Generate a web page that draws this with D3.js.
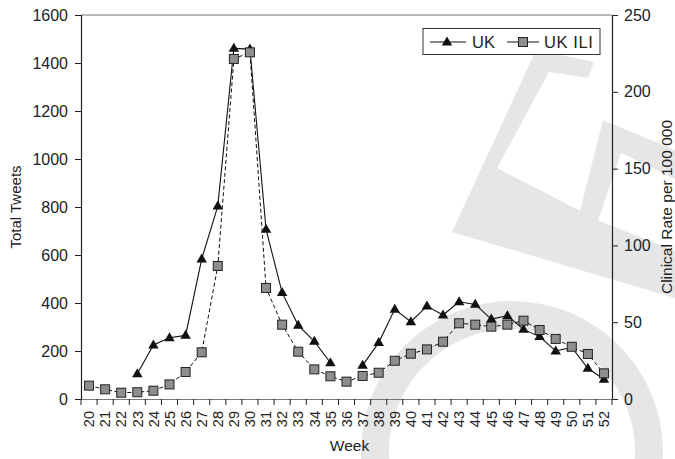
<!DOCTYPE html>
<html>
<head>
<meta charset="utf-8">
<script src="https://cdn.jsdelivr.net/npm/d3@7"></script>
<style>
  html, body { margin: 0; padding: 0; background: #fff; }
  svg { display: block; font-family: "Liberation Sans", Arial, Helvetica, sans-serif; }
</style>
</head>
<body>
<svg id="chart" width="675" height="459"></svg>
<script>
// Weekly tweet counts (left axis) and clinical ILI rate (right axis)
const weeks = [20,21,22,23,24,25,26,27,28,29,30,31,32,33,34,35,36,37,38,39,40,41,42,43,44,45,46,47,48,49,50,51,52];
const ukTweets = [null,null,null,105,225,255,265,583,804,1461,1458,707,443,307,240,151,null,140,235,374,322,387,350,405,394,333,347,290,260,200,215,128,82];
const ukIli = [8.7,6.3,4.1,4.4,5.4,9.5,17.6,30.4,86.6,221.4,225.7,72.3,48.4,30.8,19.3,14.8,11.3,15.0,17.1,24.9,29.5,32.3,37.3,49.3,48.4,47.1,48.4,51.0,44.9,39.1,34.0,29.3,16.7];
const leftTicks = [0,200,400,600,800,1000,1200,1400,1600];
const rightTicks = [0,50,100,150,200,250];
const seriesNames = ["UK", "UK ILI"];

const svg = d3.select("#chart");
const m = { left: 81, right: 612, top: 15, bottom: 399 };
const ink = "#222";
const font = "Liberation Sans, Arial, sans-serif";

// Light background emblem
const deco = svg.append("g").attr("fill", "#e6e6e6");
const ring = d3.arc().innerRadius(123).outerRadius(151).startAngle(0).endAngle(2 * Math.PI);
deco.append("path").attr("transform", "translate(512,452)").attr("d", ring());
const polyLine = d3.line();
deco.append("path").attr("d", polyLine([[536,50],[594,62],[588,78],[549,72],[497,168],[600,221],[675,251],[675,298],[452,232]]) + "Z");
deco.append("path").attr("d", polyLine([[603,120],[675,150],[675,179],[621,153],[598,221],[577,223]]) + "Z");

// Scales
const x = d3.scaleBand().domain(weeks).range([m.left, m.right]).padding(0);
const yL = d3.scaleLinear().domain([0, 1600]).range([m.bottom, m.top]);
const yR = d3.scaleLinear().domain([0, 250]).range([m.bottom, m.top]);
const cx = w => x(w) + x.bandwidth() / 2;

// Top border
svg.append("line").attr("x1", m.left).attr("x2", m.right).attr("y1", m.top).attr("y2", m.top)
  .attr("stroke", "#777").attr("stroke-width", 1.2);

// Left axis
const gL = svg.append("g").attr("transform", `translate(${m.left},0)`)
  .call(d3.axisLeft(yL).tickValues(leftTicks).tickSize(6).tickPadding(7).tickFormat(d3.format("d")));
gL.select(".domain").attr("stroke", ink).attr("stroke-width", 1.2);
gL.selectAll(".tick line").attr("stroke", ink);
gL.selectAll("text").attr("fill", ink).style("font-size", "16px").style("font-family", font);

// Right axis
const gR = svg.append("g").attr("transform", `translate(${m.right},0)`)
  .call(d3.axisRight(yR).tickValues(rightTicks).tickSize(6).tickPadding(6).tickFormat(d3.format("d")));
gR.select(".domain").attr("stroke", ink).attr("stroke-width", 1.2);
gR.selectAll(".tick line").attr("stroke", ink);
gR.selectAll("text").attr("fill", ink).style("font-size", "16px").style("font-family", font);

// Bottom axis: ticks on band edges, rotated week labels at band centres
const gB = svg.append("g").attr("transform", `translate(0,${m.bottom})`)
  .call(d3.axisBottom(x).tickSize(0).tickPadding(0));
gB.select(".domain").attr("stroke", "#777").attr("stroke-width", 1.2);
gB.selectAll(".tick text")
  .attr("fill", ink)
  .style("font-size", "14.5px").style("font-family", font)
  .attr("text-anchor", "end")
  .attr("transform", "rotate(-90)")
  .attr("x", -12).attr("y", 0).attr("dy", "0.36em");
const edges = weeks.map(w => x(w)).concat([x.range()[1]]);
gB.selectAll(".edge").data(edges).join("line").attr("class", "edge")
  .attr("x1", d => d).attr("x2", d => d).attr("y1", 0).attr("y2", 6)
  .attr("stroke", ink).attr("stroke-width", 1);

// Axis titles
svg.append("text").attr("transform", `translate(21,${(m.top + m.bottom) / 2}) rotate(-90)`)
  .attr("text-anchor", "middle").attr("fill", ink).style("font-size", "15px").text("Total Tweets");
svg.append("text").attr("transform", `translate(672,${(m.top + m.bottom) / 2}) rotate(-90)`)
  .attr("text-anchor", "middle").attr("fill", ink).style("font-size", "15.5px").text("Clinical Rate per 100 000");
svg.append("text").attr("x", (m.left + m.right) / 2 + 3).attr("y", 451)
  .attr("text-anchor", "middle").attr("fill", ink).style("font-size", "15.5px").text("Week");

// Series lines
const iliLine = d3.line().x((d, i) => cx(weeks[i])).y(d => yR(d)).defined(d => d != null);
const ukLine = d3.line().x((d, i) => cx(weeks[i])).y(d => yL(d)).defined(d => d != null);
svg.append("path").attr("d", iliLine(ukIli)).attr("fill", "none").attr("stroke", "#111")
  .attr("stroke-width", 1).attr("stroke-dasharray", "4,2.5");
svg.append("path").attr("d", ukLine(ukTweets)).attr("fill", "none").attr("stroke", "#111")
  .attr("stroke-width", 1.1);

// Markers
const triPath = (w, h) => `M0,${-h * 0.62}L${w / 2},${h * 0.38}L${-w / 2},${h * 0.38}Z`;
const ukPts = weeks.map((w, i) => ({ w, v: ukTweets[i] })).filter(d => d.v != null);
svg.append("g").selectAll("path").data(ukPts).join("path")
  .attr("transform", d => `translate(${cx(d.w)},${yL(d.v)})`)
  .attr("d", triPath(10.5, 9)).attr("fill", "#111");
const iliPts = weeks.map((w, i) => ({ w, v: ukIli[i] }));
svg.append("g").selectAll("rect").data(iliPts).join("rect")
  .attr("x", d => cx(d.w) - 4.5).attr("y", d => yR(d.v) - 4.5)
  .attr("width", 9).attr("height", 9)
  .attr("fill", "#8e8e8e").attr("stroke", "#222").attr("stroke-width", 1);

// Legend
const lg = svg.append("g");
lg.append("rect").attr("x", 423).attr("y", 28.5).attr("width", 177).attr("height", 26)
  .attr("fill", "#fff").attr("stroke", "#333").attr("stroke-width", 1);
const ly = 42;
lg.append("line").attr("x1", 430).attr("x2", 466).attr("y1", ly).attr("y2", ly).attr("stroke", "#111");
lg.append("path").attr("transform", `translate(447,${ly})`).attr("d", triPath(10.5, 9)).attr("fill", "#111");
lg.append("text").attr("x", 472).attr("y", ly).attr("dy", "0.36em").attr("fill", ink)
  .style("font-size", "16.5px").text(seriesNames[0]);
lg.append("line").attr("x1", 507).attr("x2", 539).attr("y1", ly).attr("y2", ly).attr("stroke", "#111");
lg.append("rect").attr("x", 523 - 4.5).attr("y", ly - 4.5).attr("width", 9).attr("height", 9)
  .attr("fill", "#8e8e8e").attr("stroke", "#222");
lg.append("text").attr("x", 544).attr("y", ly).attr("dy", "0.36em").attr("fill", ink)
  .style("font-size", "16.5px").style("letter-spacing", "0.6px").text(seriesNames[1]);
</script>
</body>
</html>
